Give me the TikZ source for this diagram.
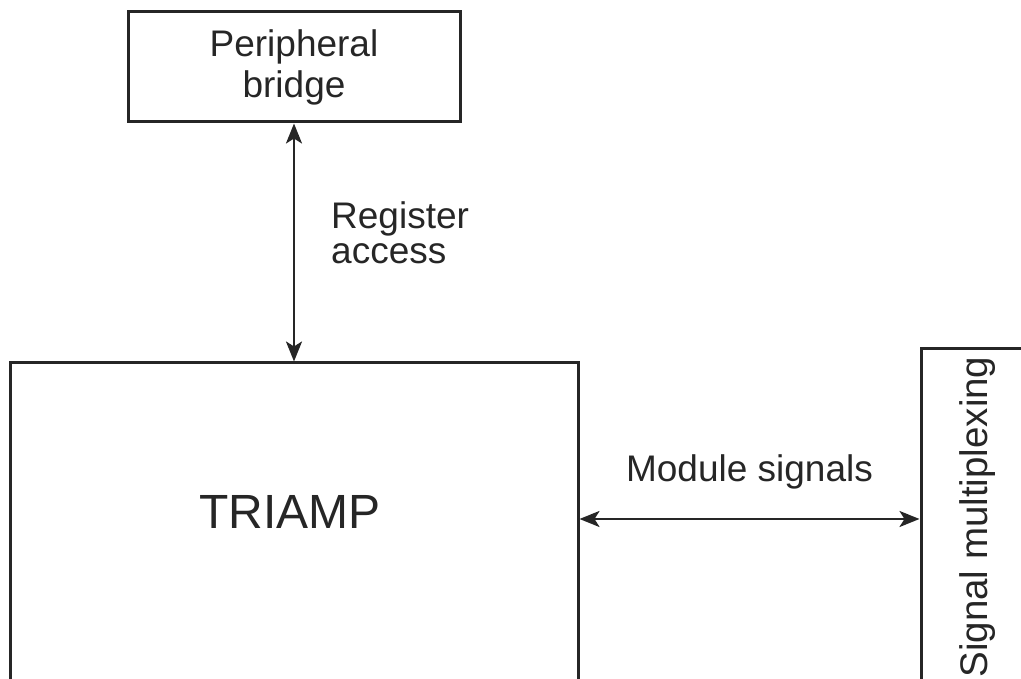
\documentclass[tikz,border=0pt]{standalone}
\usepackage{fontspec}
\setmainfont{Liberation Sans}
\usetikzlibrary{arrows.meta}

\begin{document}
\begin{tikzpicture}[x=1pt,y=1pt,>={Stealth[length=20pt,width=16pt,inset=5pt]},
                    box/.style={draw=black!85,line width=3pt,inner sep=0pt},
                    lbl/.style={font=\fontsize{37}{41}\selectfont,text=black!85,inner sep=0pt},
                    link/.style={<->,color=black!85,line width=2.6pt}]
\useasboundingbox (0,0) rectangle (1021,679);
\clip (0,0) rectangle (1021,679);
\node[box,lbl,align=center,minimum width=332pt,minimum height=110pt] (bridge) at (294,612) {Peripheral\\bridge};
\node[box,minimum width=568pt,minimum height=336pt] (triamp) at (294,148) {};
\node[lbl,font=\fontsize{48}{52}\selectfont] (core) at (290,167) {TRIAMP};
\node[box,lbl,rotate=90,font=\fontsize{38.5}{42}\selectfont,minimum width=349pt,minimum height=119pt] (mux) at (980.5,156) {};
\node[lbl,rotate=90,font=\fontsize{38.5}{42}\selectfont] (muxtext) at (978,162) {Signal multiplexing};
\coordinate (lvl) at (0,160);

\draw[link] (bridge) -- (triamp);
\draw[link] (triamp.east |- lvl) -- (mux.north |- lvl);
\node[lbl,align=left,anchor=west,font=\fontsize{37}{35}\selectfont] (reg) at (331,446) {Register\\access};
\node[lbl,anchor=base] (sig) at (749.5,197) {Module signals};
\end{tikzpicture}
\end{document}
